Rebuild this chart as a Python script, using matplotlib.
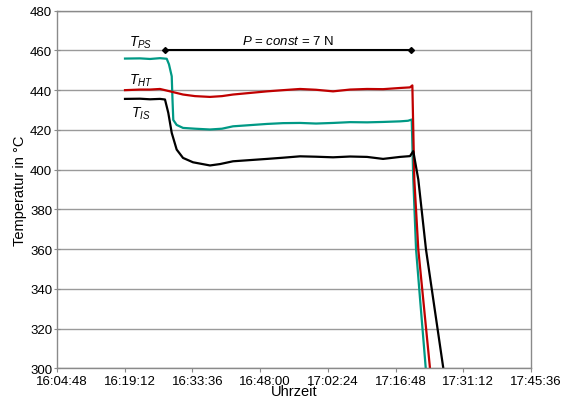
import matplotlib
matplotlib.use('Agg')
import matplotlib.pyplot as plt
import matplotlib.transforms as mtransforms
from matplotlib.ticker import FuncFormatter, MultipleLocator

plt.rcParams['font.family'] = ['Liberation Sans', 'DejaVu Sans']
plt.rcParams['mathtext.fontset'] = 'custom'
plt.rcParams['mathtext.rm'] = 'Liberation Sans'
plt.rcParams['mathtext.it'] = 'Liberation Sans:italic'

# T_PS (teal)
ps_time = ['16:19:16', '16:22:27', '16:24:35', '16:26:42', '16:28:08', '16:28:37',
           '16:29:12', '16:29:22', '16:29:32', '16:30:15', '16:31:36', '16:34:09',
           '16:37:20', '16:39:53', '16:42:14', '16:45:51', '16:49:28', '16:52:52',
           '16:56:29', '16:59:53', '17:03:30', '17:07:07', '17:10:44', '17:14:08',
           '17:17:45', '17:19:27', '17:20:14', '17:20:34', '17:21:09', '17:22:00',
           '17:23:13']
ps_temp = [455.9, 456.0, 455.7, 456.1, 455.8, 453.0,
           447.0, 435.0, 425.0, 422.5, 421.0, 420.6,
           420.2, 420.6, 421.8, 422.4, 423.0, 423.4,
           423.5, 423.2, 423.5, 423.9, 423.8, 424.0,
           424.3, 424.6, 425.2, 395.0, 360.0, 335.0,
           300.0]

# T_HT (red)
ht_time = ['16:19:16', '16:22:27', '16:24:35', '16:26:42', '16:28:50', '16:31:36',
           '16:34:09', '16:37:20', '16:39:53', '16:42:14', '16:45:51', '16:49:28',
           '16:52:52', '16:56:29', '16:59:53', '17:03:30', '17:07:07', '17:10:44',
           '17:14:08', '17:17:45', '17:19:52', '17:20:22', '17:20:47', '17:21:38',
           '17:24:07']
ht_temp = [440.0, 440.3, 440.3, 440.6, 439.4, 437.8,
           437.0, 436.6, 437.0, 437.8, 438.6, 439.4,
           440.0, 440.6, 440.2, 439.4, 440.3, 440.6,
           440.5, 441.1, 441.4, 442.4, 395.0, 359.8,
           300.0]

# T_IS (black)
is_time = ['16:19:16', '16:22:27', '16:24:35', '16:26:42', '16:27:46', '16:28:28',
           '16:29:12', '16:30:15', '16:31:36', '16:33:43', '16:37:20', '16:39:28',
           '16:42:14', '16:45:51', '16:49:28', '16:52:52', '16:56:29', '16:59:53',
           '17:03:30', '17:07:07', '17:10:44', '17:14:08', '17:17:45', '17:19:52',
           '17:20:34', '17:21:38', '17:23:16', '17:26:57']
is_temp = [435.6, 435.7, 435.4, 435.6, 435.3, 428.6,
           418.5, 410.1, 405.9, 403.7, 402.1, 402.8,
           404.2, 404.8, 405.4, 406.0, 406.7, 406.5,
           406.2, 406.6, 406.4, 405.4, 406.4, 406.8,
           409.3, 395.0, 359.8, 300.0]

load_start = '16:27:46'
load_end = '17:20:05'
load_level = 460


def secs(t):
    h, m, s = t.split(':')
    return int(h) * 3600 + int(m) * 60 + int(s)


def fmt_time(x, pos):
    x = int(round(x))
    return '%d:%02d:%02d' % (x // 3600, (x % 3600) // 60, x % 60)


fig = plt.figure(figsize=(5.63, 4.06), dpi=100)
ax = fig.add_axes([0.1012, 0.0904, 0.842, 0.8808])

ax.plot([secs(t) for t in ps_time], ps_temp, color='#009985', lw=1.6)
ax.plot([secs(t) for t in ht_time], ht_temp, color='#c00000', lw=1.6)
ax.plot([secs(t) for t in is_time], is_temp, color='black', lw=1.6)

ax.plot([secs(load_start), secs(load_end)], [load_level, load_level], color='black',
        lw=1.5, marker='D', markersize=3)
ax.text((secs(load_start) + secs(load_end)) / 2, 461.5, r'$P$ = $const$ = 7 N',
        ha='center', va='bottom', fontsize=9.5)

ax.text(secs('16:22:40'), 464.3, r'$T_{PS}$', ha='center', va='center', fontsize=10)
ax.text(secs('16:22:40'), 445.2, r'$T_{HT}$', ha='center', va='center', fontsize=10)
ax.text(secs('16:22:40'), 428.6, r'$T_{IS}$', ha='center', va='center', fontsize=10)

x0 = secs('16:04:48')
ax.set_xlim(x0, x0 + 6048)
ax.set_ylim(300, 480)
ax.xaxis.set_major_locator(MultipleLocator(864))
ax.xaxis.set_major_formatter(FuncFormatter(fmt_time))
ax.yaxis.set_major_locator(MultipleLocator(20))

ax.grid(axis='y', color='#9a9a9a', lw=1)
ax.set_axisbelow(True)
for s in ax.spines.values():
    s.set_color('#8a8a8a')
    s.set_linewidth(1)
ax.tick_params(axis='x', labelsize=9.5, color='#8a8a8a', length=3, pad=2)
ax.tick_params(axis='y', labelsize=9.5, color='#8a8a8a', direction='inout', length=5, pad=1)

offset = mtransforms.ScaledTranslation(5 / 100, 0, fig.dpi_scale_trans)
for lab in ax.get_xticklabels():
    lab.set_transform(lab.get_transform() + offset)

ax.set_xlabel('Uhrzeit', fontsize=10.5, labelpad=-2)
ax.set_ylabel('Temperatur in °C', fontsize=10.5, labelpad=2)

fig.savefig('out.png', dpi=100)
